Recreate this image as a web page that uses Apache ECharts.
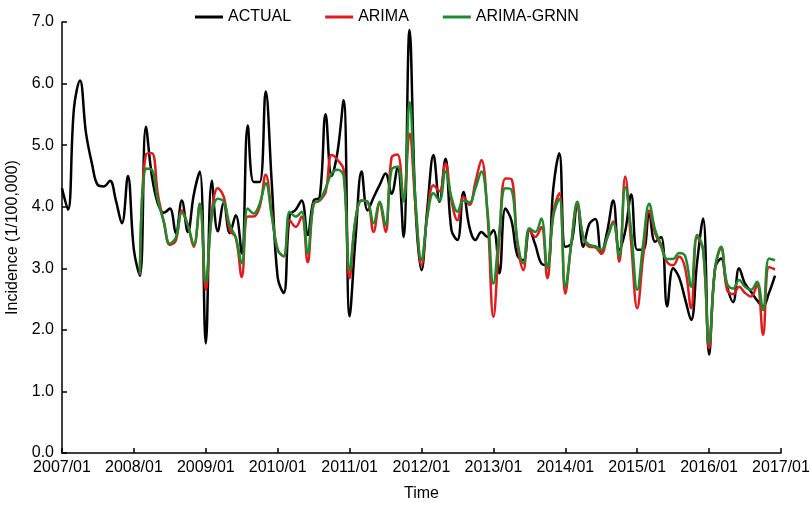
<!DOCTYPE html>
<html>
<head>
<meta charset="utf-8">
<script src="https://cdn.jsdelivr.net/npm/echarts@6/dist/echarts.min.js"></script>
<style>html,body{margin:0;padding:0;background:#fff;}#c{width:810px;height:506px;}</style>
</head>
<body>
<div id="c"></div>
<script>
// Tick labels along the time axis (one per year)
var tickLabels = ['2007/01','2008/01','2009/01','2010/01','2011/01','2012/01','2013/01','2014/01','2015/01','2016/01','2017/01'];
var yTicks = [0,1,2,3,4,5,6,7];
// Monthly categories 2007/01 .. 2017/01
var months = ['01','02','03','04','05','06','07','08','09','10','11','12'];
var categories = [];
for (var y = 2007; y <= 2016; y++) { for (var k = 0; k < 12; k++) categories.push(y + '/' + months[k]); }
categories.push('2017/01');

// ACTUAL: 2007/01 .. 2016/12
var actual = [
 4.3,3.95,5.6,6.05,5.2,4.7,4.35,4.33,4.42,4.1,3.73,4.5,
 3.3,2.88,5.3,4.5,4.05,3.9,3.97,3.57,4.1,3.59,4.2,4.57,
 1.78,4.42,3.6,4.06,3.57,3.86,3.24,5.32,4.4,4.4,5.87,4.4,
 2.85,2.6,3.86,3.95,4.1,3.54,4.1,4.15,5.5,4.5,4.9,5.73,
 2.22,3.5,4.57,3.94,4.15,4.35,4.54,4.21,4.65,3.51,6.87,4.0,
 2.97,4.0,4.84,4.08,4.78,3.62,3.46,4.24,3.67,3.46,3.59,3.51,
 3.62,2.92,3.97,3.78,3.21,3.13,3.62,3.38,3.08,3.05,4.3,4.87,
 3.35,3.4,4.05,3.35,3.72,3.8,3.24,3.6,4.1,3.3,3.6,4.2,
 3.3,3.3,3.89,3.43,3.51,2.38,3.0,2.85,2.5,2.16,3.1,3.81,
 1.6,3.0,3.16,2.7,2.45,3.0,2.75,2.62,2.48,2.38,2.6,2.88
];
// ARIMA: 2008/02 .. 2016/12
var arimaStart = 13;
var arima = [
 2.9,4.85,4.87,4.2,3.75,3.38,3.45,3.94,3.7,3.35,4.05,
 2.65,3.9,4.3,4.16,3.62,3.5,2.86,3.84,3.84,4.0,4.52,3.9,
 3.3,3.19,3.78,3.67,3.84,3.1,4.05,4.1,4.24,4.84,4.76,4.6,
 2.84,3.8,4.1,4.08,3.59,4.05,3.59,4.8,4.85,4.1,5.19,4.0,
 3.05,3.9,4.35,4.25,4.7,4.1,3.78,4.16,4.03,4.4,4.76,3.89,
 2.21,3.5,4.46,4.45,3.4,2.97,3.62,3.51,3.67,2.84,3.9,4.22,
 2.59,3.4,4.03,3.51,3.35,3.34,3.24,3.5,3.76,3.11,4.49,3.4,
 2.35,3.2,3.94,3.57,3.35,3.1,3.05,3.19,3.0,2.35,3.5,3.3,
 1.7,3.0,3.32,2.65,2.58,2.7,2.6,2.54,2.73,1.92,3.02,2.98
];
// ARIMA-GRNN: 2008/02 .. 2016/12
var grnn = [
 2.9,4.62,4.6,4.1,3.75,3.4,3.5,3.9,3.7,3.38,4.05,
 2.78,3.85,4.13,4.08,3.7,3.5,3.08,3.97,3.89,4.05,4.38,3.85,
 3.3,3.2,3.92,3.84,3.92,3.24,4.05,4.1,4.3,4.54,4.6,4.5,
 2.97,3.8,4.1,4.08,3.73,4.08,3.7,4.6,4.65,4.08,5.7,4.1,
 3.13,3.85,4.22,4.1,4.57,4.15,3.92,4.1,4.07,4.3,4.57,3.95,
 2.75,3.6,4.3,4.28,3.45,3.08,3.65,3.59,3.81,3.0,3.85,4.13,
 2.7,3.4,4.08,3.51,3.38,3.36,3.3,3.5,3.73,3.19,4.32,3.6,
 2.65,3.4,4.05,3.62,3.38,3.15,3.15,3.25,3.2,2.7,3.54,3.3,
 1.78,3.0,3.35,2.75,2.67,2.81,2.7,2.65,2.78,2.32,3.16,3.13
];

function pad(start, arr) {
  var out = [];
  for (var i = 0; i < start; i++) out.push(null);
  return out.concat(arr);
}

var FONT = "'Liberation Sans', Arial, sans-serif";
var chart = echarts.init(document.getElementById('c'), null, {renderer: 'canvas'});
chart.setOption({
  animation: false,
  backgroundColor: '#fff',
  textStyle: {fontFamily: FONT, color: '#000'},
  legend: {
    left: 190, top: 4,
    itemWidth: 28, itemHeight: 3, itemGap: 34,
    icon: 'rect',
    textStyle: {fontFamily: FONT, fontSize: 16, color: '#000'},
    data: ['ACTUAL', 'ARIMA', 'ARIMA-GRNN']
  },
  grid: {left: 62, right: 29, top: 22, bottom: 53, containLabel: false, outerBoundsMode: 'none'},
  xAxis: {
    type: 'category',
    data: categories,
    boundaryGap: false,
    name: 'Time', nameLocation: 'middle', nameGap: 33,
    nameTextStyle: {fontFamily: FONT, fontSize: 16, color: '#000'},
    axisLine: {lineStyle: {color: '#000', width: 1.5}},
    axisTick: {inside: true, length: 5, interval: 11, lineStyle: {color: '#000', width: 1.5}},
    axisLabel: {
      interval: 11, fontFamily: FONT, fontSize: 16, color: '#000', margin: 7,
      formatter: function (v, i) { return tickLabels[i / 12] || ''; }
    },
    splitLine: {show: false}
  },
  yAxis: {
    type: 'value', min: yTicks[0], max: yTicks[yTicks.length - 1], interval: 1,
    name: 'Incidence (1/100,000)', nameLocation: 'middle', nameGap: 41, nameRotate: 90,
    nameTextStyle: {fontFamily: FONT, fontSize: 16, color: '#000'},
    axisLine: {show: true, lineStyle: {color: '#000', width: 1.5}},
    axisTick: {show: true, inside: true, length: 5, lineStyle: {color: '#000', width: 1.5}},
    axisLabel: {fontFamily: FONT, fontSize: 16, color: '#000', margin: 8,
      formatter: function (v) { return v.toFixed(1); }},
    splitLine: {show: false}
  },
  series: [
    {name: 'ACTUAL', type: 'line', data: actual, smooth: 0.4, symbol: 'none',
     lineStyle: {color: '#000000', width: 2.5}, itemStyle: {color: '#000000'}},
    {name: 'ARIMA', type: 'line', data: pad(arimaStart, arima), smooth: 0.4, symbol: 'none',
     lineStyle: {color: '#e31a1c', width: 2.5}, itemStyle: {color: '#e31a1c'}},
    {name: 'ARIMA-GRNN', type: 'line', data: pad(arimaStart, grnn), smooth: 0.4, symbol: 'none',
     lineStyle: {color: '#1e8a2e', width: 2.5}, itemStyle: {color: '#1e8a2e'}}
  ]
});
</script>
</body>
</html>
